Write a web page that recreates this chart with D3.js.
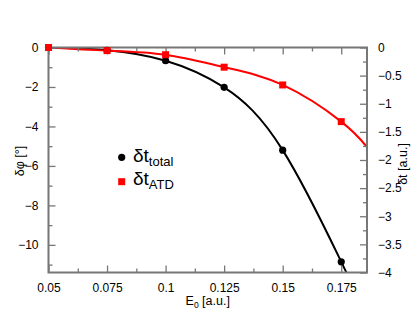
<!DOCTYPE html>
<html>
<head>
<meta charset="utf-8">
<script src="https://cdn.jsdelivr.net/npm/d3@7/dist/d3.min.js"></script>
<style>
  body { margin: 0; background: #fff; }
  svg { display: block; }
  svg text { font-family: "Liberation Sans", Arial, sans-serif; }
</style>
</head>
<body>
<script>
// field amplitudes (a.u.) where the simulation points sit
var fieldE = [0.05, 0.075, 0.1, 0.125, 0.15, 0.175];
// delta t total, plotted against the left axis scale
var totalVals = [0, -0.14, -0.67, -2.02, -5.2, -10.86];
// delta t ATD, plotted against the right axis
var atdVals = [0, -0.055, -0.128, -0.35, -0.666, -1.318];
// where the fitted curves leave the frame
var totalExit = [0.1775, -11.4];
var atdExit = [0.186, -1.77];

var xTicks = [0.05, 0.075, 0.1, 0.125, 0.15, 0.175];
var xTickLabels = ["0.05", "0.075", "0.1", "0.125", "0.15", "0.175"];
var leftTicks = [0, -2, -4, -6, -8, -10];
var rightTicks = [0, -0.5, -1, -1.5, -2, -2.5, -3, -3.5, -4];

var W = 415, H = 321;
var margin = {top: 47.5, right: 48, bottom: 48.5, left: 48.5},
    width = W - margin.left - margin.right,
    height = H - margin.top - margin.bottom;

var x = d3.scaleLinear().domain([0.05, 0.186]).range([0, width]);
var yL = d3.scaleLinear().domain([-11.4, 0]).range([height, 0]);
var yR = d3.scaleLinear().domain([-4, 0]).range([height, 0]);

var svg = d3.select("body").append("svg")
    .attr("width", W)
    .attr("height", H);
var g = svg.append("g")
    .attr("transform", "translate(" + margin.left + "," + margin.top + ")");

g.append("clipPath").attr("id", "plotclip")
  .append("rect").attr("x", 0).attr("y", 0).attr("width", width).attr("height", height);

var axisCol = "#777";

// curves
var totalPts = fieldE.map(function(e, i) { return [e, totalVals[i]]; }).concat([totalExit]);
var atdPts = fieldE.map(function(e, i) { return [e, atdVals[i]]; }).concat([atdExit]);

var lineL = d3.line().curve(d3.curveNatural)
    .x(function(d) { return x(d[0]); })
    .y(function(d) { return yL(d[1]); });
var lineR = d3.line().curve(d3.curveNatural)
    .x(function(d) { return x(d[0]); })
    .y(function(d) { return yR(d[1]); });

var curves = g.append("g").attr("clip-path", "url(#plotclip)");
curves.append("path").datum(totalPts)
    .attr("d", lineL).attr("fill", "none").attr("stroke", "#000").attr("stroke-width", 2);
curves.append("path").datum(atdPts)
    .attr("d", lineR).attr("fill", "none").attr("stroke", "#ff0000").attr("stroke-width", 2);

// frame
function tickAxis(axis) {
  axis.attr("font-family", null);
  axis.selectAll("text").attr("fill", "#000").style("font-size", "12px");
  axis.selectAll("line").attr("stroke", axisCol).attr("stroke-width", 1.3);
  axis.select(".domain").remove();
}

// bottom x axis (ticks point inwards)
var xMinor = d3.range(0, 6).map(function(i) { return 0.0625 + 0.025 * i; }).filter(function(v) { return v < 0.186; });
var bx = g.append("g").attr("transform", "translate(0," + height + ")")
  .call(d3.axisBottom(x).tickValues(xTicks).tickSizeInner(-7).tickSizeOuter(0)
    .tickPadding(11).tickFormat(function(d, i) { return xTickLabels[i]; }));
tickAxis(bx);
g.append("g").attr("transform", "translate(0," + height + ")")
  .call(d3.axisBottom(x).tickValues(xMinor).tickSize(-4).tickFormat(""))
  .call(tickAxis);

// top: mirror ticks only
g.append("g").call(d3.axisTop(x).tickValues(xTicks).tickSize(-7).tickFormat("")).call(tickAxis);
g.append("g").call(d3.axisTop(x).tickValues(xMinor).tickSize(-4).tickFormat("")).call(tickAxis);

// left axis
var lMinor = [-1, -3, -5, -7, -9, -11];
g.append("g")
  .call(d3.axisLeft(yL).tickValues(leftTicks).tickSize(-7).tickPadding(10).tickFormat(d3.format("d")))
  .call(tickAxis);
g.append("g").call(d3.axisLeft(yL).tickValues(lMinor).tickSize(-4).tickFormat("")).call(tickAxis);

// right axis
var rMinor = d3.range(0, 8).map(function(i) { return -0.25 - 0.5 * i; });
g.append("g").attr("transform", "translate(" + width + ",0)")
  .call(d3.axisRight(yR).tickValues(rightTicks).tickSize(-7).tickPadding(11).tickFormat(d3.format("")))
  .call(tickAxis);
g.append("g").attr("transform", "translate(" + width + ",0)")
  .call(d3.axisRight(yR).tickValues(rMinor).tickSize(-4).tickFormat(""))
  .call(tickAxis);

g.append("rect").attr("x", 0).attr("y", 0).attr("width", width).attr("height", height)
  .attr("fill", "none").attr("stroke", axisCol).attr("stroke-width", 2);

// markers: black dots first, red squares on top
g.selectAll(".dot").data(totalPts.slice(0, fieldE.length)).enter().append("circle")
  .attr("cx", function(d) { return x(d[0]); })
  .attr("cy", function(d) { return yL(d[1]); })
  .attr("r", 3.6).attr("fill", "#000");
g.selectAll(".sq").data(atdPts.slice(0, fieldE.length)).enter().append("rect")
  .attr("x", function(d) { return x(d[0]) - 3.5; })
  .attr("y", function(d) { return yR(d[1]) - 3.5; })
  .attr("width", 7).attr("height", 7).attr("fill", "#ff0000");

// axis titles
var xt = svg.append("text").attr("x", margin.left + width / 2).attr("y", 305)
  .attr("text-anchor", "middle").style("font-size", "12.5px");
xt.append("tspan").text("E");
xt.append("tspan").attr("dy", 3).style("font-size", "8.5px").text("0");
xt.append("tspan").attr("dy", -3).text(" [a.u.]");

svg.append("text").attr("transform", "translate(24,161) rotate(-90)")
  .attr("text-anchor", "middle").style("font-size", "12.5px").text("δφ [°]");
svg.append("text").attr("transform", "translate(407,164) rotate(-90)")
  .attr("text-anchor", "middle").style("font-size", "12.5px").text("δt [a.u.]");

// legend
var leg = svg.append("g");
leg.append("circle").attr("cx", 121.7).attr("cy", 157.3).attr("r", 3.6).attr("fill", "#000");
leg.append("rect").attr("x", 118.2).attr("y", 178.2).attr("width", 7).attr("height", 7).attr("fill", "#ff0000");
var l1 = leg.append("text").attr("x", 133).attr("y", 162).style("font-size", "19px");
l1.append("tspan").text("δt");
l1.append("tspan").attr("dy", 4).style("font-size", "13px").text("total");
var l2 = leg.append("text").attr("x", 133).attr("y", 184.5).style("font-size", "19px");
l2.append("tspan").text("δt");
l2.append("tspan").attr("dy", 4).style("font-size", "13px").text("ATD");
</script>
</body>
</html>
